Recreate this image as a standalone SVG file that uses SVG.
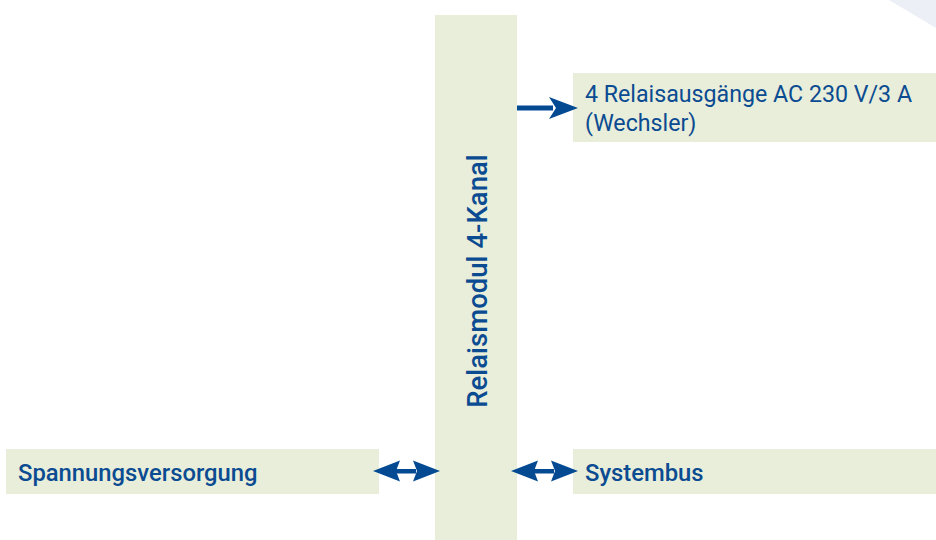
<svg xmlns="http://www.w3.org/2000/svg" width="936" height="540" viewBox="0 0 936 540">
<style>
.box{fill:#e8eed9}
.lbl{font-family:Roboto,"Liberation Sans",sans-serif;font-size:23.2px;fill:#0b4b92}
.med{font-weight:500;font-size:23.8px}
.big{font-size:27.5px}
.arr{fill:#034a93}
</style>
<rect width="936" height="540" fill="#ffffff"/>
<polygon points="889,0 936,0 936,28" fill="#eceff6"/>
<g id="relaismodul">
<rect class="box" x="435" y="15" width="82" height="525"/>
<text class="lbl med big" transform="translate(487,281) rotate(-90)" text-anchor="middle">Relaismodul 4-Kanal</text>
</g>
<g id="relaisausgaenge">
<rect class="box" x="573" y="73" width="363" height="69"/>
<text class="lbl" x="585" y="102">4 Relaisausgänge AC 230 V/3 A</text>
<text class="lbl" x="585" y="131">(Wechsler)</text>
</g>
<g id="spannungsversorgung">
<rect class="box" x="6" y="449" width="373" height="45"/>
<text class="lbl med" x="18" y="481">Spannungsversorgung</text>
</g>
<g id="systembus">
<rect class="box" x="573" y="449" width="363" height="45"/>
<text class="lbl med" x="585" y="481">Systembus</text>
</g>
<g id="connectors">
<rect class="arr" x="517" y="105.5" width="36" height="5"/>
<polygon class="arr" points="578,108 549,97 556,108 549,119"/>
<rect class="arr" x="396" y="469" width="20" height="4.5"/>
<polygon class="arr" points="373,471 400,460.5 396,471 400,481.5"/>
<polygon class="arr" points="440,471 413,460.5 417,471 413,481.5"/>
<rect class="arr" x="534" y="469" width="20" height="4.5"/>
<polygon class="arr" points="511,471 538,460.5 534,471 538,481.5"/>
<polygon class="arr" points="578,471 551,460.5 555,471 551,481.5"/>
</g>
</svg>
